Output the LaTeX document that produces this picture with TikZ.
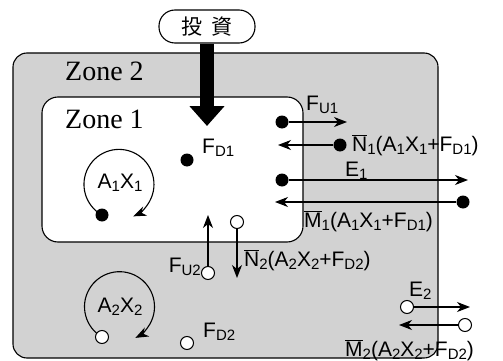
\documentclass[tikz,border=0pt]{standalone}
\usepackage{fontspec}
\setmainfont{Liberation Serif}
\newfontfamily\labfont{Liberation Sans}
\newfontfamily\cjkfont{Noto Sans CJK JP}
\usepackage{tikz}
\usetikzlibrary{arrows.meta}
\newcommand{\sbt}[1]{\raisebox{-0.3ex}{\fontsize{15}{15}\selectfont #1}}
\newcommand{\ovl}[1]{$\overline{\mbox{#1}}$}

\begin{document}
\begin{tikzpicture}[
  x=1pt, y=-1pt,
  zonebox/.style={draw, line width=1.1pt, rounded corners=14pt},
  zonetext/.style={font=\fontsize{28}{30}\selectfont, inner sep=0pt,
                   anchor=base west},
  investbox/.style={draw, fill=white, line width=1.1pt, rounded corners=16pt,
                    minimum width=96pt, minimum height=33pt,
                    font=\cjkfont\fontsize{21}{21}\selectfont},
  lab/.style={font=\labfont\fontsize{21}{24}\selectfont, inner sep=0pt,
              anchor=base west},
  dotf/.style={circle, fill, inner sep=0pt, minimum size=13pt},
  doto/.style={circle, draw, fill=white, line width=1pt, inner sep=0pt,
               minimum size=13pt},
  arr/.style={-{Stealth[length=13pt,width=10pt,inset=4pt]}, line width=1.1pt},
  bigarr/.style={line width=14pt, -{Triangle[length=20pt,width=34pt]}}
]
\useasboundingbox (0,0) rectangle (503,361);
%--- Zones -------------------------------------------------------------------
\draw[zonebox, fill=gray!35] (13,53) rectangle (438,358);
\draw[zonebox, fill=white, rounded corners=16pt] (42,97) rectangle (303,242);
\node[zonetext] (zone2) at (65,80) {Zone 2};
\node[zonetext] (zone1) at (65,128) {Zone 1};
%--- Investment --------------------------------------------------------------
\node[investbox] (invest) at (207,26.5) {投\hspace{9pt}資};
\coordinate (hit) at (207,126);
\draw[bigarr] (invest.south) -- (hit);
%--- Zone 1 flows (filled) ---------------------------------------------------
\node[dotf] (fd1) at (187,160) {};
\node[lab] (fd1lab) at (202,153) {F\sbt{D1}};
\node[dotf] (fu1) at (282,122) {};
\coordinate (fu1end) at (347,122);
\draw[arr] (fu1) -- (fu1end);
\node[lab] (fu1lab) at (306,110) {F\sbt{U1}};
\node[dotf] (n1) at (340,145) {};
\coordinate (n1end) at (278,145);
\draw[arr] (n1) -- (n1end);
\node[lab] (n1lab) at (352,151) {\ovl{N}\sbt{1}(A\sbt{1}X\sbt{1}+F\sbt{D1})};
\node[dotf] (e1) at (282,180) {};
\coordinate (e1end) at (468,180);
\draw[arr] (e1) -- (e1end);
\node[lab] (e1lab) at (345,176) {E\sbt{1}};
\node[dotf] (m1) at (463,202) {};
\coordinate (m1end) at (275,202);
\draw[arr] (m1) -- (m1end);
\node[lab] (m1lab) at (304,227) {\ovl{M}\sbt{1}(A\sbt{1}X\sbt{1}+F\sbt{D1})};
%--- Zone 1 cycle ------------------------------------------------------------
\node[dotf] (a1) at (102,215) {};
\draw[arr] (a1.center) arc[start angle=119, end angle=426, radius=35];
\node[lab, anchor=center] (a1lab) at (120,183) {A\sbt{1}X\sbt{1}};
%--- Zone 2 flows (open) -----------------------------------------------------
\node[doto] (fu2) at (208,273) {};
\coordinate (fu2end) at (208,215);
\draw[arr] (fu2) -- (fu2end);
\node[lab, anchor=base east] (fu2lab) at (201,272) {F\sbt{U2}};
\node[doto] (n2) at (237,222) {};
\coordinate (n2end) at (237,278);
\draw[arr] (n2) -- (n2end);
\node[lab] (n2lab) at (244,266) {\ovl{N}\sbt{2}(A\sbt{2}X\sbt{2}+F\sbt{D2})};
\node[doto] (e2) at (407,307) {};
\coordinate (e2end) at (470,307);
\draw[arr] (e2) -- (e2end);
\node[lab] (e2lab) at (409,296) {E\sbt{2}};
\node[doto] (m2) at (465,325) {};
\coordinate (m2end) at (399,325);
\draw[arr] (m2) -- (m2end);
\node[lab] (m2lab) at (345,356) {\ovl{M}\sbt{2}(A\sbt{2}X\sbt{2}+F\sbt{D2})};
\node[doto] (fd2) at (187,343) {};
\node[lab] (fd2lab) at (203,337) {F\sbt{D2}};
%--- Zone 2 cycle ------------------------------------------------------------
\coordinate (a2c) at (102,337);
\draw[arr] (a2c) arc[start angle=120, end angle=423, radius=35];
\node[doto] (a2) at (a2c) {};
\node[lab, anchor=center] (a2lab) at (120,307) {A\sbt{2}X\sbt{2}};
\end{tikzpicture}
\end{document}
